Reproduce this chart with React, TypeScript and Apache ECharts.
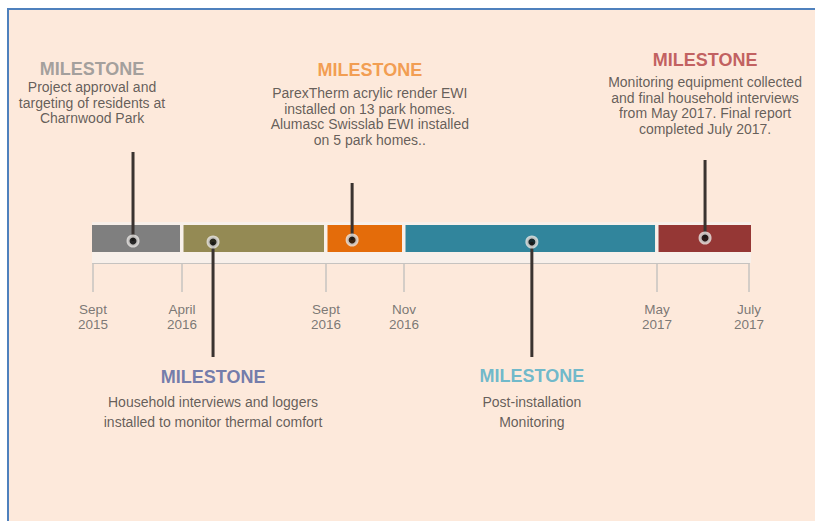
import React, { useEffect, useRef } from 'react';
import * as echarts from 'echarts';

// Timeline boundaries (the infographic is not drawn to scale: positions are % along the bar)
const boundaryLabels = ['Sept\n2015', 'April\n2016', 'Sept\n2016', 'Nov\n2016', 'May\n2017', 'July\n2017'];
const boundaryPos = [0, 13.57, 35.52, 47.41, 85.98, 100];
const segmentColors = ['#7f7f7f', '#948a54', '#e46c0a', '#31859c', '#953735'];

// Milestones (in time order)
const milestonePos = [6.1, 18.3, 39.5, 66.9, 93.3];
const milestoneDotLevel = [22, 21, 23, 21, 25];
const milestoneStemEnd = [111, -94, 80, -94, 103];
const milestoneHeadingColors = ['#8c8c8c', '#4f5f9e', '#ef8a2e', '#4bacc6', '#b23c40'];
const milestoneTextX = [-0.15, 18.3, 42.2, 66.9, 93.3];
const milestoneHeadingLevel = [194, -114, 193, -113, 203];
const milestoneBodyLevel = [176, -139, 170, -139, 181];
const milestoneBodyLineHeight = [15.5, 20, 15.5, 20, 15.7];
const milestoneHeading = 'MILESTONE';
const milestoneBody = [
  ['Project approval and', 'targeting of residents at', 'Charnwood Park'],
  ['Household interviews and loggers', 'installed to monitor thermal comfort'],
  ['ParexTherm acrylic render EWI', 'installed on 13 park homes.', 'Alumasc Swisslab EWI installed', 'on 5 park homes..'],
  ['Post-installation', 'Monitoring'],
  ['Monitoring equipment collected', 'and final household interviews', 'from May 2017. Final report', 'completed July 2017.'],
];

// vertical levels (units above the axis line)
const bandTop = 41;
const barTop = 38;
const barBottom = 11;
const tickLabelLevel = -53.5;

const FONT = '"Liberation Sans", Arial, sans-serif';

export default function App() {
  const ref = useRef<HTMLDivElement>(null);
  useEffect(() => {
    if (!ref.current) return;
    const chart = echarts.init(ref.current, undefined, { renderer: 'svg' });
    const segData = segmentColors.map((c, i) => [boundaryPos[i], boundaryPos[i + 1]]);
    const lastSeg = segmentColors.length - 1;
    const textLabelBase = {
      show: true,
      position: 'inside',
      align: 'center',
      verticalAlign: 'middle',
      fontFamily: FONT,
    };
    const option: any = {
      animation: false,
      backgroundColor: 'transparent',
      grid: { left: 93, right: 66, top: 0, bottom: 0, containLabel: false, outerBoundsMode: 'none' },
      xAxis: {
        type: 'value',
        min: 0,
        max: 100,
        splitLine: { show: false },
        axisLine: { show: true, onZero: true, lineStyle: { color: '#c6c3c0', width: 2 } },
        axisTick: {
          show: true,
          customValues: boundaryPos,
          length: 29,
          lineStyle: { color: '#c6c3c0', width: 1.5 },
        },
        axisLabel: { show: false },
      },
      yAxis: { type: 'value', min: -258, max: 263, show: false, splitLine: { show: false } },
      series: [
        {
          type: 'custom',
          name: 'band',
          silent: true,
          clip: false,
          z: 1,
          data: [[boundaryPos[0], boundaryPos[boundaryPos.length - 1]]],
          renderItem: (params: any, api: any) => {
            const p0 = api.coord([api.value(0), bandTop]);
            const p1 = api.coord([api.value(1), 0]);
            return {
              type: 'rect',
              shape: { x: p0[0] - 1, y: p0[1], width: p1[0] - p0[0] + 3, height: p1[1] - p0[1] },
              style: { fill: '#f8f0ea' },
            };
          },
        },
        {
          type: 'custom',
          name: 'periods',
          silent: true,
          clip: false,
          z: 2,
          data: segData,
          renderItem: (params: any, api: any) => {
            const i = params.dataIndex;
            const p0 = api.coord([api.value(0), barTop]);
            const p1 = api.coord([api.value(1), barBottom]);
            const x0 = p0[0] + (i === 0 ? -1 : 1.5);
            const x1 = p1[0] + (i === lastSeg ? 2 : -2);
            return {
              type: 'rect',
              shape: { x: x0, y: p0[1], width: x1 - x0, height: p1[1] - p0[1] },
              style: { fill: segmentColors[i] },
            };
          },
        },
        {
          type: 'custom',
          name: 'stems',
          silent: true,
          clip: false,
          z: 3,
          data: milestonePos.map((x, i) => [x, milestoneDotLevel[i], milestoneStemEnd[i]]),
          renderItem: (params: any, api: any) => {
            const a = api.coord([api.value(0), api.value(1)]);
            const b = api.coord([api.value(0), api.value(2)]);
            return {
              type: 'line',
              shape: { x1: a[0], y1: a[1], x2: b[0], y2: b[1] },
              style: { stroke: '#3a3330', lineWidth: 3 },
            };
          },
        },
        {
          type: 'scatter',
          name: 'milestones',
          silent: true,
          clip: false,
          z: 4,
          symbol: 'circle',
          symbolSize: 10,
          itemStyle: { color: '#111111', borderColor: '#e9e6e3', borderWidth: 3 },
          data: milestonePos.map((x, i) => [x, milestoneDotLevel[i]]),
        },
        {
          type: 'scatter',
          name: 'tickLabels',
          silent: true,
          clip: false,
          z: 5,
          symbolSize: 1,
          itemStyle: { color: 'rgba(0,0,0,0)' },
          data: boundaryPos.map((x) => [x, tickLabelLevel]),
          label: {
            ...textLabelBase,
            fontSize: 13.5,
            lineHeight: 15,
            color: '#5a5a5a',
            formatter: (p: any) => boundaryLabels[p.dataIndex],
          },
        },
        {
          type: 'scatter',
          name: 'headings',
          silent: true,
          clip: false,
          z: 5,
          symbolSize: 1,
          itemStyle: { color: 'rgba(0,0,0,0)' },
          data: milestoneTextX.map((x, i) => ({
            value: [x, milestoneHeadingLevel[i]],
            label: { color: milestoneHeadingColors[i] },
          })),
          label: {
            ...textLabelBase,
            fontWeight: 'bold',
            fontSize: 18,
            formatter: () => milestoneHeading,
          },
        },
        {
          type: 'scatter',
          name: 'descriptions',
          silent: true,
          clip: false,
          z: 5,
          symbolSize: 1,
          itemStyle: { color: 'rgba(0,0,0,0)' },
          data: milestoneTextX.map((x, i) => ({
            value: [x, milestoneBodyLevel[i] - ((milestoneBody[i].length - 1) * milestoneBodyLineHeight[i]) / 2],
            label: { lineHeight: milestoneBodyLineHeight[i] },
          })),
          label: {
            ...textLabelBase,
            fontSize: 14,
            color: '#3d3a38',
            formatter: (p: any) => milestoneBody[p.dataIndex].join('\n'),
          },
        },
      ],
    };
    chart.setOption(option);
    return () => chart.dispose();
  }, []);

  return (
    <div style={{ position: 'fixed', left: 0, top: 0, width: 815, height: 521, background: '#ffffff', overflow: 'hidden' }}>
      <div
        style={{
          position: 'absolute',
          left: 7,
          top: 8,
          width: 840,
          height: 560,
          background: '#fde9db',
          borderLeft: '2px solid #4f81bd',
          borderTop: '2px solid #4f81bd',
        }}
      />
      <div ref={ref} style={{ position: 'absolute', left: 0, top: 0, width: 815, height: 521 }} />
    </div>
  );
}
